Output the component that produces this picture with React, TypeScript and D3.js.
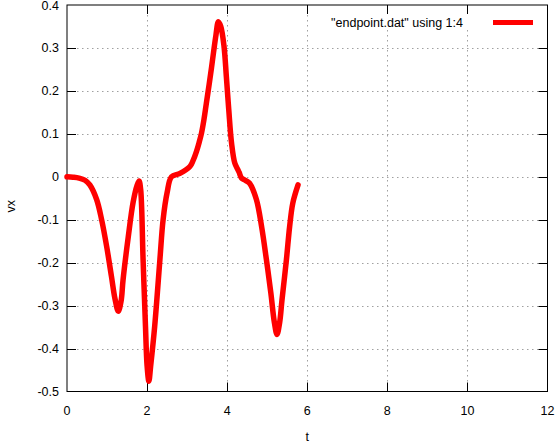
import React from "react";
import * as d3 from "d3";

const tValues = [0, 0.15, 0.3, 0.45, 0.57, 0.74, 0.865, 0.99, 1.11, 1.2, 1.28, 1.35, 1.4, 1.53, 1.65, 1.75, 1.8, 1.84, 1.9, 1.96, 2.0, 2.045, 2.09, 2.19, 2.32, 2.4, 2.5, 2.61, 2.82, 3.07, 3.15, 3.23, 3.3, 3.36, 3.42, 3.48, 3.55, 3.61, 3.66, 3.72, 3.78, 3.84, 3.92, 3.98, 4.04, 4.11, 4.19, 4.27, 4.3, 4.36, 4.45, 4.56, 4.73, 4.86, 4.98, 5.09, 5.18, 5.245, 5.31, 5.37, 5.48, 5.56, 5.64, 5.77];
const vxValues = [0, -0.001, -0.003, -0.008, -0.019, -0.053, -0.1, -0.162, -0.232, -0.285, -0.313, -0.29, -0.24, -0.14, -0.06, -0.02, -0.01, -0.03, -0.193, -0.348, -0.44, -0.476, -0.44, -0.348, -0.193, -0.1, -0.037, 0.0, 0.008, 0.024, 0.038, 0.058, 0.08, 0.102, 0.133, 0.171, 0.215, 0.255, 0.29, 0.33, 0.361, 0.35, 0.305, 0.233, 0.156, 0.078, 0.032, 0.016, 0.01, -0.003, -0.008, -0.015, -0.053, -0.116, -0.193, -0.27, -0.34, -0.367, -0.34, -0.286, -0.193, -0.116, -0.061, -0.019];

const xTicks = [0, 2, 4, 6, 8, 10, 12];
const yTicks = [0.4, 0.3, 0.2, 0.1, 0, -0.1, -0.2, -0.3, -0.4, -0.5];
const yTickLabels = ["0.4", "0.3", "0.2", "0.1", "0", "-0.1", "-0.2", "-0.3", "-0.4", "-0.5"];
const legendLabel = '"endpoint.dat" using 1:4';

const W = 557, H = 448;
const L = 67, R = 547.5, T = 5, B = 391.5;

export default function App() {
  const x = d3.scaleLinear().domain([0, 12]).range([L, R]);
  const y = d3.scaleLinear().domain([-0.5, 0.4]).range([B, T]);
  const data = tValues.map((t, i) => [t, vxValues[i]] as [number, number]);
  const line = d3.line<[number, number]>().x(d => x(d[0])).y(d => y(d[1])).curve(d3.curveCatmullRom.alpha(0.5));
  const font = "'Liberation Sans', Arial, sans-serif";
  const tick = 9;
  return (
    <svg width={W} height={H} style={{ position: "absolute", left: 0, top: 0, background: "#fff" }} fontFamily={font} fontSize={12.5}>
      <rect x={0} y={0} width={W} height={H} fill="#fff" />
      <g stroke="#a0a0a0" strokeWidth={1} strokeDasharray="1.5,3.5">
        {xTicks.slice(1, -1).map(t => (
          <line key={"gx" + t} x1={Math.round(x(t)) + 0.5} x2={Math.round(x(t)) + 0.5} y1={T} y2={B} />
        ))}
        {yTicks.slice(1, -1).map(v => (
          <line key={"gy" + v} x1={L} x2={R} y1={Math.round(y(v)) + 0.5} y2={Math.round(y(v)) + 0.5} />
        ))}
      </g>
      <rect x={325} y={T + 1} width={R - 326} height={24} fill="#fff" />
      <g stroke="#000" strokeWidth={1}>
        {xTicks.slice(1, -1).map(t => {
          const px = Math.round(x(t)) + 0.5;
          return (
            <g key={"tx" + t}>
              <line x1={px} x2={px} y1={B} y2={B - tick} />
              <line x1={px} x2={px} y1={T} y2={T + tick} />
            </g>
          );
        })}
        {yTicks.slice(1, -1).map(v => {
          const py = Math.round(y(v)) + 0.5;
          return (
            <g key={"ty" + v}>
              <line x1={L} x2={L + tick} y1={py} y2={py} />
              <line x1={R} x2={R - tick} y1={py} y2={py} />
            </g>
          );
        })}
      </g>
      <rect x={L} y={T} width={R - L} height={B - T} fill="none" stroke="#000" strokeWidth={1} />
      {xTicks.map(t => (
        <text key={"lx" + t} x={x(t)} y={B + 23} textAnchor="middle" fill="#000">{t}</text>
      ))}
      {yTicks.map((v, i) => (
        <text key={"ly" + v} x={59} y={y(v) + 4.5} textAnchor="end" fill="#000">{yTickLabels[i]}</text>
      ))}
      <text x={(L + R) / 2} y={441} textAnchor="middle" fill="#000">t</text>
      <text transform={`translate(15,${(T + B) / 2 + 8}) rotate(-90)`} textAnchor="middle" fill="#000">vx</text>
      <path d={line(data) || ""} fill="none" stroke="#ff0000" strokeWidth={5.5} strokeLinejoin="round" strokeLinecap="round" />
      <text x={463} y={27} textAnchor="end" fill="#000">{legendLabel}</text>
      <line x1={493} x2={533} y1={22.5} y2={22.5} stroke="#ff0000" strokeWidth={5} />
    </svg>
  );
}
